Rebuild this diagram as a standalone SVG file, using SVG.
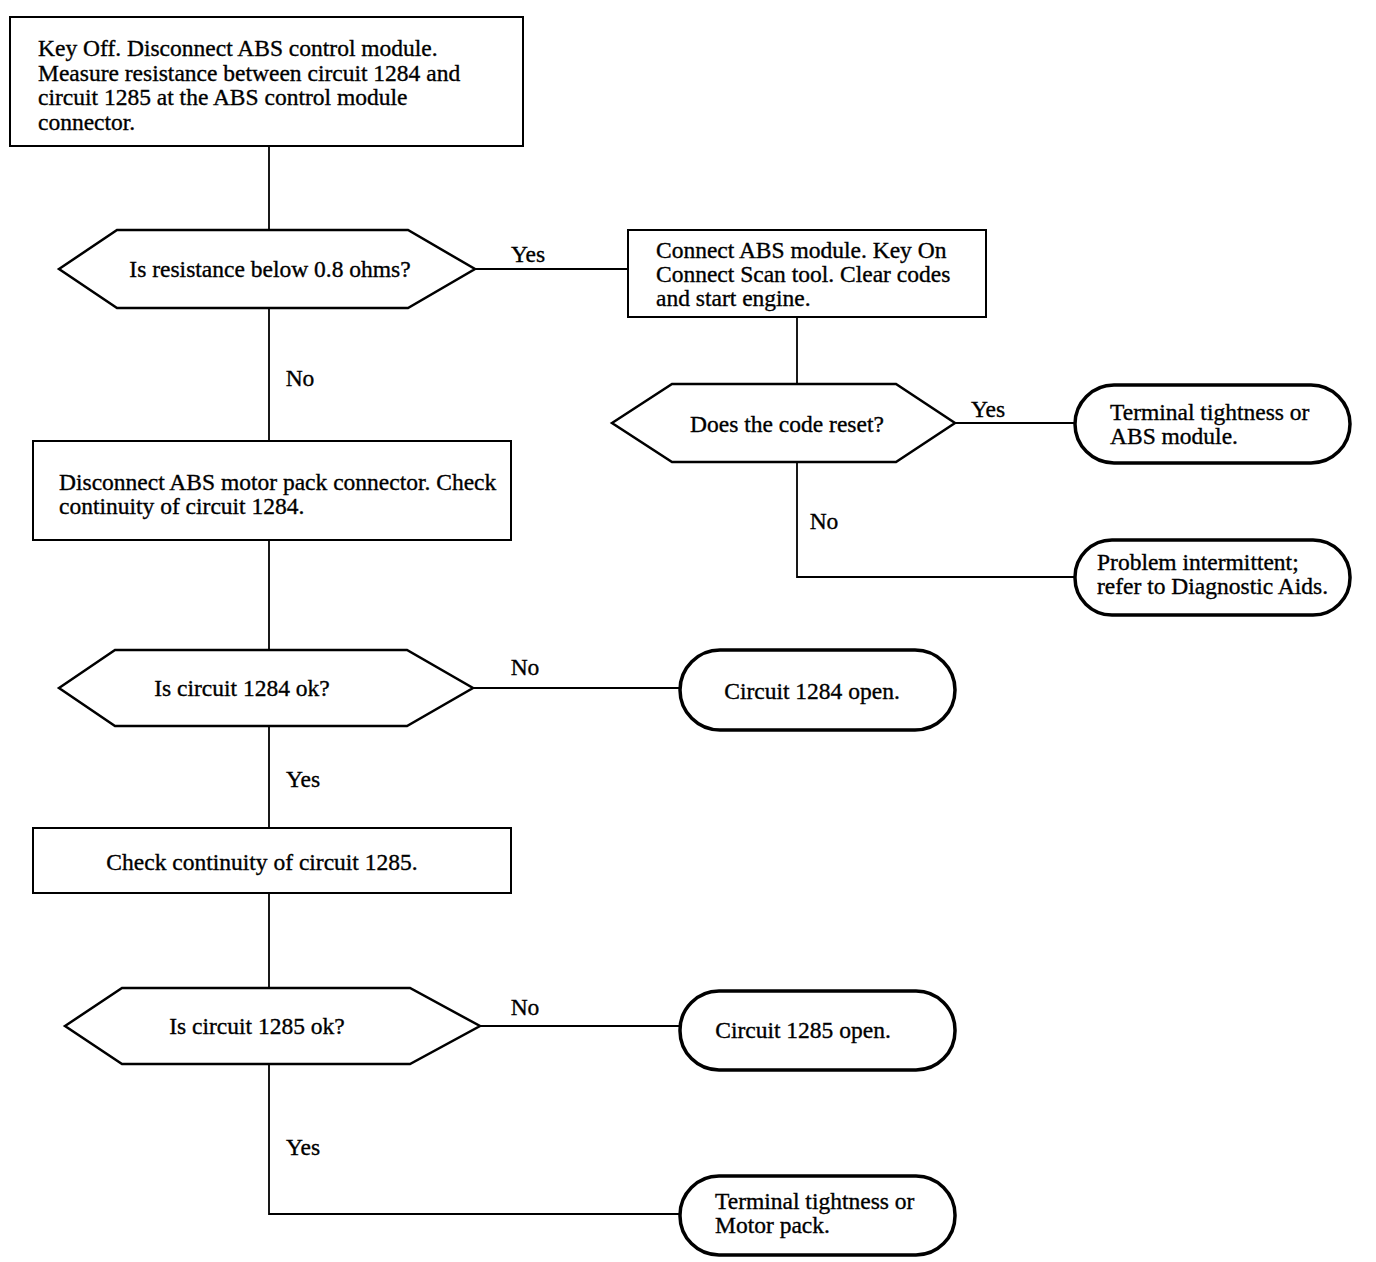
<svg xmlns="http://www.w3.org/2000/svg" width="1376" height="1262" viewBox="0 0 1376 1262">
<style>
text{font-family:"Liberation Serif","Times New Roman",serif;font-size:23.5px;fill:#000;stroke:#000;stroke-width:0.35}
.c{text-anchor:middle}
.box{fill:#fff;stroke:#000;stroke-width:2}
.hex{fill:#fff;stroke:#000;stroke-width:2.5;stroke-linejoin:miter}
.term{fill:#fff;stroke:#000;stroke-width:3.5}
.ln{fill:none;stroke:#000;stroke-width:1.8}
</style>
<rect width="1376" height="1262" fill="#fff"/>
<g id="connectors">
<path class="ln" d="M269,146V230"/>
<path class="ln" d="M475,269H628"/>
<path class="ln" d="M797,317V384"/>
<path class="ln" d="M955,423H1075"/>
<path class="ln" d="M797,462V577H1075"/>
<path class="ln" d="M269,308V441"/>
<path class="ln" d="M269,540V650"/>
<path class="ln" d="M473,688H680"/>
<path class="ln" d="M269,726V828"/>
<path class="ln" d="M269,893V988"/>
<path class="ln" d="M480,1026H680"/>
<path class="ln" d="M269,1064V1214H680"/>
<text x="528" y="262" class="c">Yes</text>
<text x="988" y="417" class="c">Yes</text>
<text x="824" y="529" class="c">No</text>
<text x="300" y="386" class="c">No</text>
<text x="525" y="675" class="c">No</text>
<text x="303" y="787" class="c">Yes</text>
<text x="525" y="1015" class="c">No</text>
<text x="303" y="1155" class="c">Yes</text>
</g>
<g id="n1">
<rect class="box" x="10" y="17" width="513" height="129"/>
<text x="38" y="56">Key Off. Disconnect ABS control module.</text>
<text x="38" y="81">Measure resistance between circuit 1284 and</text>
<text x="38" y="105">circuit 1285 at the ABS control module</text>
<text x="38" y="130">connector.</text>
</g>
<g id="d1">
<polygon class="hex" points="59,269 117,230 408,230 475,269 408,308 117,308"/>
<text x="270" y="277" class="c">Is resistance below 0.8 ohms?</text>
</g>
<g id="n2">
<rect class="box" x="628" y="230" width="358" height="87"/>
<text x="656" y="258">Connect ABS module. Key On</text>
<text x="656" y="282">Connect Scan tool. Clear codes</text>
<text x="656" y="306">and start engine.</text>
</g>
<g id="d2">
<polygon class="hex" points="612,423 672,384 896,384 955,423 896,462 672,462"/>
<text x="787" y="432" class="c">Does the code reset?</text>
</g>
<g id="t1">
<rect class="term" x="1075" y="385" width="275" height="78" rx="39"/>
<text x="1110" y="420">Terminal tightness or</text>
<text x="1110" y="444">ABS module.</text>
</g>
<g id="t2">
<rect class="term" x="1075" y="540" width="275" height="75" rx="37"/>
<text x="1097" y="570">Problem intermittent;</text>
<text x="1097" y="594">refer to Diagnostic Aids.</text>
</g>
<g id="n3">
<rect class="box" x="33" y="441" width="478" height="99"/>
<text x="59" y="490">Disconnect ABS motor pack connector. Check</text>
<text x="59" y="514">continuity of circuit 1284.</text>
</g>
<g id="d3">
<polygon class="hex" points="59,688 115,650 407,650 473,688 407,726 115,726"/>
<text x="242" y="696" class="c">Is circuit 1284 ok?</text>
</g>
<g id="t3">
<rect class="term" x="680" y="650" width="275" height="80" rx="40"/>
<text x="812" y="699" class="c">Circuit 1284 open.</text>
</g>
<g id="n4">
<rect class="box" x="33" y="828" width="478" height="65"/>
<text x="262" y="870" class="c">Check continuity of circuit 1285.</text>
</g>
<g id="d4">
<polygon class="hex" points="65,1026 122,988 410,988 480,1026 410,1064 122,1064"/>
<text x="257" y="1034" class="c">Is circuit 1285 ok?</text>
</g>
<g id="t4">
<rect class="term" x="680" y="991" width="275" height="79" rx="39"/>
<text x="803" y="1038" class="c">Circuit 1285 open.</text>
</g>
<g id="t5">
<rect class="term" x="680" y="1176" width="275" height="79" rx="39"/>
<text x="715" y="1209">Terminal tightness or</text>
<text x="715" y="1233">Motor pack.</text>
</g>
</svg>
